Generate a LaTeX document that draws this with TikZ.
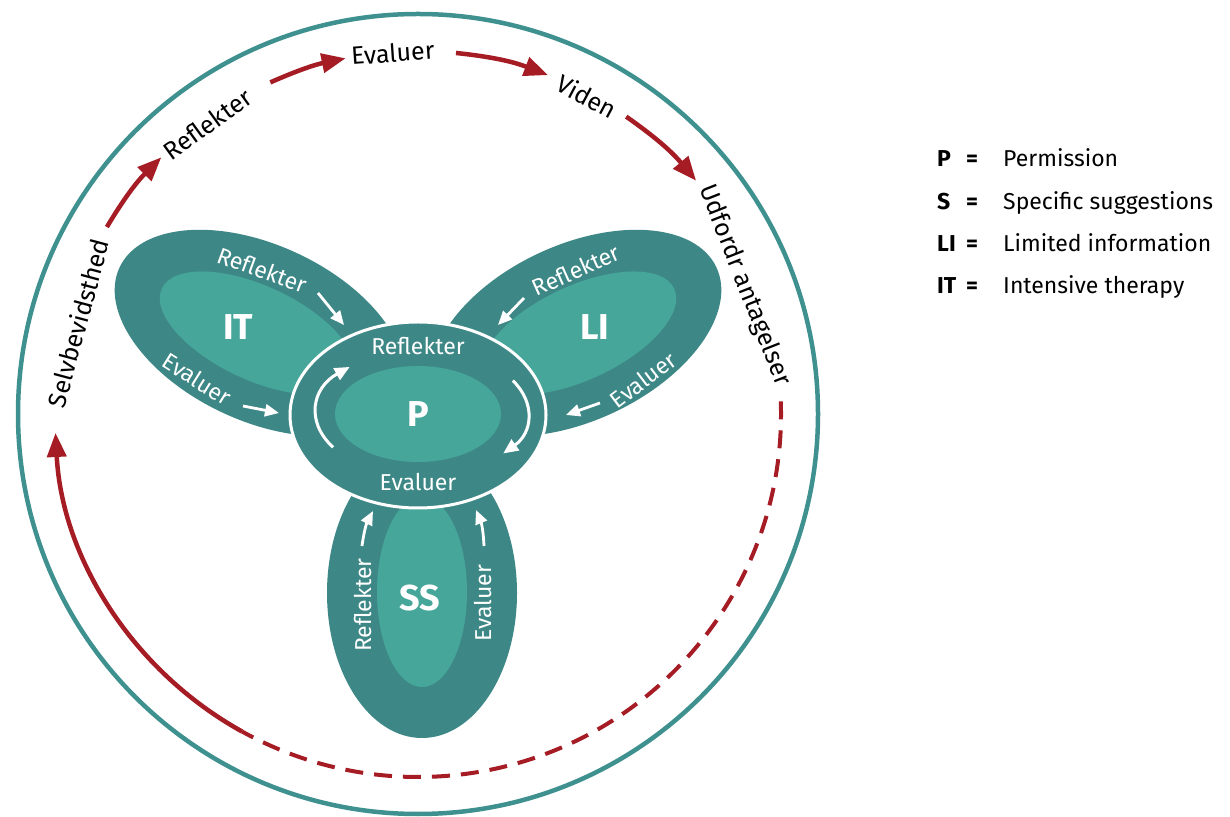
\documentclass[tikz,border=0pt]{standalone}
\usepackage{fontspec}
\setmainfont{Fira Sans}
\usetikzlibrary{arrows.meta,calc,shapes.geometric}
\definecolor{ringteal}{HTML}{3F9190}
\definecolor{darkteal}{HTML}{3D8886}
\definecolor{lightteal}{HTML}{46A699}
\definecolor{cyclered}{HTML}{A51C24}
\tikzset{
   outertext/.style={font=\fontsize{25}{30}\selectfont, text=black, inner sep=0pt},
   bandtext/.style={font=\fontsize{23}{28}\selectfont, text=white, inner sep=0pt},
   bigtext/.style={font=\fontsize{36}{40}\selectfont\bfseries, text=white, inner sep=0pt},
   legendkey/.style={font=\fontsize{23}{28}\selectfont\bfseries, anchor=base west, inner sep=0pt},
   legendtext/.style={font=\fontsize{23}{28}\selectfont, inner sep=0pt},
   petal/.style={ellipse, fill=darkteal, inner sep=0pt},
   petalcore/.style={ellipse, fill=lightteal, inner sep=0pt},
   redarrow/.style={draw=cyclered, line width=4.5pt, -{Triangle[length=24pt,width=19pt]}},
   reddash/.style={draw=cyclered, line width=4pt, dash pattern=on 18pt off 11pt},
   whitearrow/.style={draw=white, line width=2.8pt, -{Triangle[length=14pt,width=12pt]}},
   looparrow/.style={draw=white, line width=3pt, -{Triangle[length=15pt,width=13pt]}},
}
\newcommand{\legendrow}[4]{%
   \node[legendkey] ({#1key}) at (937,{#2}) {#3};%
   \node[legendtext, anchor=base, font=\fontsize{23}{28}\selectfont\bfseries] ({#1eq}) at (972,{#2}) {=};%
   \node[legendtext, anchor=base west] ({#1txt}) at (1003,{#2}) {#4};%
}
\begin{document}
\begin{tikzpicture}[x=1pt,y=1pt]
   \useasboundingbox (0,0) rectangle (1230,816);
   \coordinate (O) at (418,402);
   \node[circle, draw=ringteal, line width=4.5pt, minimum size=800pt, inner sep=0pt] (ring) at (O) {};

   \node[petal, minimum width=310pt, minimum height=176pt, rotate=-25] (ITout) at (260,483) {};
   \node[petalcore, minimum width=210pt, minimum height=94pt, rotate=-25] (ITin) at (257,483) {};
   \node[petal, minimum width=310pt, minimum height=176pt, rotate=25] (LIout) at (576,483) {};
   \node[petalcore, minimum width=210pt, minimum height=94pt, rotate=25] (LIin) at (579,483) {};
   \node[petal, minimum width=190pt, minimum height=290pt] (SSout) at (422,223) {};
   \node[petalcore, minimum width=90pt, minimum height=190pt] (SSin) at (422,224) {};
   \node[petal, draw=white, line width=3pt, minimum width=256pt, minimum height=186pt] (P) at (418,401) {};
   \node[petalcore, minimum width=166pt, minimum height=96pt, bigtext] (Pin) at (418,402) {P};

   \node[bigtext] (IT) at (238,489) {IT};
   \node[bigtext] (LI) at (595,489) {LI};
   \node[bigtext] (SS) at (420,218) {SS};

   \node[bandtext] (Pref) at (418,470) {Reflekter};
   \node[bandtext] (Peval) at (418,334) {Evaluer};
   \node[bandtext, rotate=-20] (ITref) at (262,546) {Reflekter};
   \node[bandtext, rotate=-32] (ITeval) at (197,437) {Evaluer};
   \node[bandtext, rotate=24] (LIref) at (576,546) {Reflekter};
   \node[bandtext, rotate=37] (LIeval) at (643,436) {Evaluer};
   \node[bandtext, rotate=90] (SSref) at (363,211) {Reflekter};
   \node[bandtext, rotate=90] (SSeval) at (483,213) {Evaluer};

   \coordinate (ITra) at (318,523); \coordinate (ITrb) at (344,491);
   \coordinate (ITea) at (243,410); \coordinate (ITeb) at (279,403);
   \coordinate (LIra) at (524,518); \coordinate (LIrb) at (498,491);
   \coordinate (LIea) at (600,413); \coordinate (LIeb) at (566,401);
   \coordinate (SSra) at (362,270); \coordinate (SSrb) at (373,305);
   \coordinate (SSea) at (484,270); \coordinate (SSeb) at (476,306);
   \draw[whitearrow] (ITra) -- (ITrb);
   \draw[whitearrow] (ITea) -- (ITeb);
   \draw[whitearrow] (LIra) -- (LIrb);
   \draw[whitearrow] (LIea) -- (LIeb);
   \draw[whitearrow] (SSra) to[bend left=10] (SSrb);
   \draw[whitearrow] (SSea) to[bend right=10] (SSeb);

   \coordinate (Pc) at (422,403);
   \coordinate (Ploopl) at ($(Pc)+(213:106 and 63)$);
   \coordinate (Ploopr) at ($(Pc)+(31:106 and 63)$);
   \draw[looparrow] (Ploopl) arc[start angle=213, end angle=133, x radius=106, y radius=63];
   \draw[looparrow] (Ploopr) arc[start angle=31, end angle=-40, x radius=106, y radius=63];

   \node[outertext, rotate=75] (selv) at ($(O)+(165:352)$) {Selvbevidsthed};
   \node[outertext, rotate=36] (refl) at ($(O)+(126:358)$) {Reflekter};
   \node[outertext, rotate=4] (eval) at ($(O)+(94:362)$) {Evaluer};
   \node[outertext, rotate=-28] (viden) at ($(O)+(62:360)$) {Viden};
   \node[outertext, rotate=-68.5] (udf) at ($(O)+(21.5:351)$) {Udfordr antagelser};

   \coordinate (c1a) at ($(O)+(149:363)$); \coordinate (c1b) at ($(O)+(135:363)$);
   \coordinate (c2a) at ($(O)+(114:363)$); \coordinate (c2b) at ($(O)+(101.5:363)$);
   \coordinate (c3a) at ($(O)+(84:363)$); \coordinate (c3b) at ($(O)+(69:363)$);
   \coordinate (c4a) at ($(O)+(55:363)$); \coordinate (c4b) at ($(O)+(40:363)$);
   \coordinate (c5a) at ($(O)+(2:363)$);
   \draw[redarrow] (c1a) to[bend left=7] (c1b);
   \draw[redarrow] (c2a) to[bend left=6] (c2b);
   \draw[redarrow] (c3a) to[bend left=7.5] (c3b);
   \draw[redarrow] (c4a) to[bend left=7.5] (c4b);
   \draw[reddash] (c5a) arc[start angle=2, end angle=-119, radius=363] coordinate (c5b);
   \draw[redarrow] (c5b) arc[start angle=241, end angle=183, radius=363];

   \legendrow{p}{649}{P}{Permission}
   \legendrow{s}{606}{S}{Specific suggestions}
   \legendrow{li}{564}{LI}{Limited information}
   \legendrow{it}{522}{IT}{Intensive therapy}
\end{tikzpicture}
\end{document}
